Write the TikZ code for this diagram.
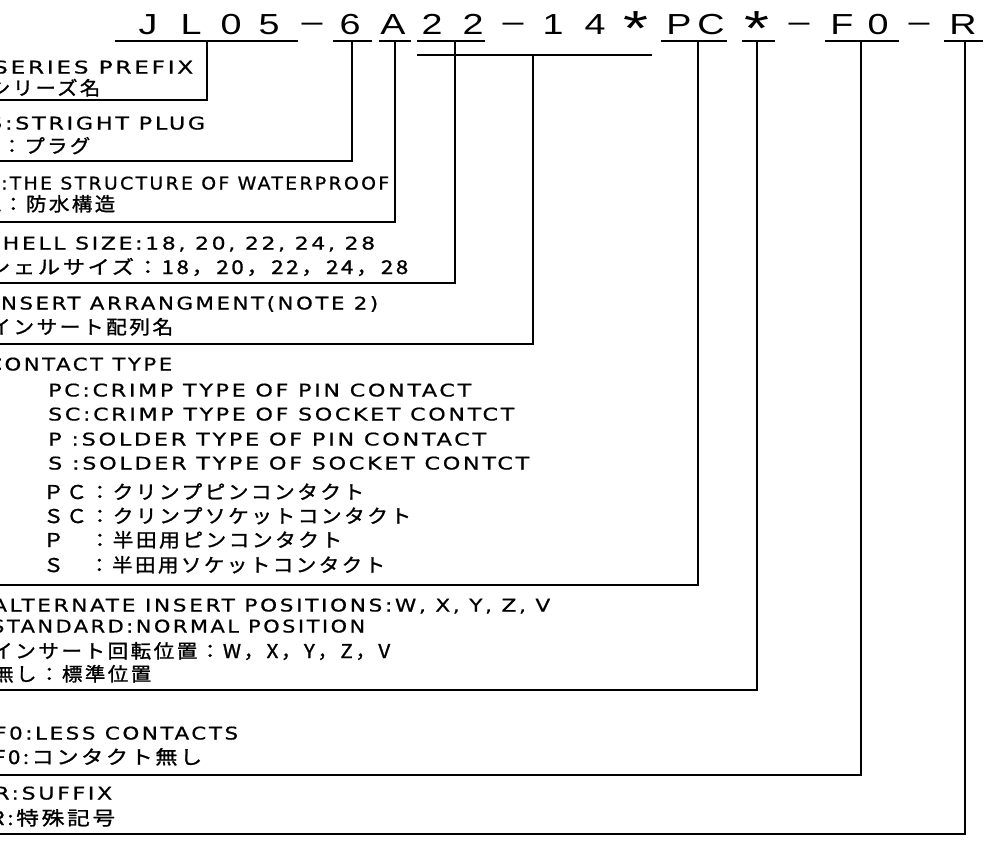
\documentclass[tikz,border=0pt]{standalone}
\usepackage{fontspec}
\usepackage{graphicx}
\newfontfamily\headfont[FakeStretch=1.3]{Liberation Sans}
\newfontfamily\latfont[LetterSpace=12, FakeBold=0.6]{DejaVu Sans}
\newfontfamily\jpfont[LetterSpace=12, FakeBold=1.2]{Noto Sans CJK JP}
\newcommand{\fitto}[2]{\resizebox{#1pt}{\height}{#2}}
\newcommand{\hast}{\raisebox{-11pt}{\scalebox{1.7}{*}}}
\newcommand{\hdash}{\raisebox{3pt}{–}}
\tikzset{
  lead/.style={black, line width=1.5pt},
  hdr/.style={inner sep=0pt, anchor=base, font=\headfont\fontsize{29}{30}\selectfont},
  en/.style={inner sep=0pt, anchor=base west, font=\latfont\fontsize{17.5}{20}\selectfont},
  jp/.style={inner sep=0pt, anchor=base west, font=\jpfont\fontsize{19}{21}\selectfont}
}
\begin{document}
\begin{tikzpicture}[x=1pt, y=-1pt]
\useasboundingbox (0,0) rectangle (986,844);
\clip (0,0) rectangle (986,844);

% part number
\foreach \x/\c [count=\i] in {148/J,191/L,231/0,269/5,312/\hdash,350/6,393/A,432/2,473/2,513/\hdash,553/1,595/4,636/\hast,679/P,711/C,757/\hast,799/\hdash,842/F,878/0,919/\hdash,963/R}
  \node[hdr] (h\i) at (\x,34) {\c};

% leaders: name/left/right/underline y/drop x/bottom y
\foreach \nm/\a/\b/\y/\v/\e in {pre/115/298/41/207/100, typ/333/372/41/352/161, wat/379/411/41/395/222, sh/417/485/41/455/283, ins/417/652/55/533/344, con/661/727/41/698/585, alt/742/775/41/757/690, fo/825/899/41/861/775, suf/944/983/41/965/834} {
  \coordinate (\nm-l) at (\a,\y);
  \coordinate (\nm-r) at (\b,\y);
  \coordinate (\nm-t) at (\v,\y);
  \coordinate (\nm-e) at (-5,\e);
  \draw[lead] (\nm-l) -- (\nm-r);
  \draw[lead] (\nm-t) |- (\nm-e);
}

% series prefix
\node[en] (pre1) at (-7,73.5) {\fitto{200}{SERIES PREFIX}};
\node[jp] (pre2) at (-10,95) {\fitto{110}{シリーズ名}};
% shell type
\node[en] (typ1) at (-12,129.5) {\fitto{217}{6:STRIGHT PLUG}};
\node[jp] (typ2) at (-12,153) {\fitto{102}{6：プラグ}};
% waterproof
\node[en] (wat1) at (-14,189.5) {\fitto{403}{A:THE STRUCTURE OF WATERPROOF}};
\node[jp] (wat2) at (-12,211) {\fitto{127}{A：防水構造}};
% shell size
\node[en] (sh1) at (-14,249.5) {\fitto{389}{SHELL SIZE:18, 20, 22, 24, 28}};
\node[jp] (sh2) at (-12,274) {\fitto{420}{シェルサイズ：18，20，22，24，28}};
% insert arrangement
\node[en] (ins1) at (-8,309.5) {\fitto{386}{INSERT ARRANGMENT(NOTE 2)}};
\node[jp] (ins2) at (-10,334) {\fitto{183}{インサート配列名}};
% contact type
\node[en] (con0) at (-13,370.5) {\fitto{185}{CONTACT TYPE}};
\node[en] (con1) at (48,396.5) {\fitto{423}{PC:CRIMP TYPE OF PIN CONTACT}};
\node[en] (con2) at (48,420.5) {\fitto{466}{SC:CRIMP TYPE OF SOCKET CONTCT}};
\node[en] (con3) at (48,445.5) {\fitto{438}{P :SOLDER TYPE OF PIN CONTACT}};
\node[en] (con4) at (48,469.5) {\fitto{481}{S :SOLDER TYPE OF SOCKET CONTCT}};
\node[jp] (con5) at (43,499) {\fitto{321}{ＰＣ：クリンプピンコンタクト}};
\node[jp] (con6) at (43,523) {\fitto{368}{ＳＣ：クリンプソケットコンタクト}};
\node[jp] (con7) at (43,547) {\fitto{299}{Ｐ　：半田用ピンコンタクト}};
\node[jp] (con8) at (43,572) {\fitto{342}{Ｓ　：半田用ソケットコンタクト}};
% insert positions
\node[en] (alt1) at (-8,611.5) {\fitto{558}{ALTERNATE INSERT POSITIONS:W, X, Y, Z, V}};
\node[en] (alt2) at (-9,632.5) {\fitto{374}{STANDARD:NORMAL POSITION}};
\node[jp] (alt3) at (-8,658) {\fitto{398}{インサート回転位置：W，X，Y，Z，V}};
\node[jp] (alt4) at (-7,681) {\fitto{158}{無し：標準位置}};
% less contacts
\node[en] (fo1) at (-6,739.5) {\fitto{244}{F0:LESS CONTACTS}};
\node[jp] (fo2) at (-7,764) {\fitto{209}{F0:コンタクト無し}};
% suffix
\node[en] (suf1) at (-6,799.5) {\fitto{118}{R:SUFFIX}};
\node[jp] (suf2) at (-10,825) {\fitto{125}{R:特殊記号}};

\end{tikzpicture}
\end{document}
